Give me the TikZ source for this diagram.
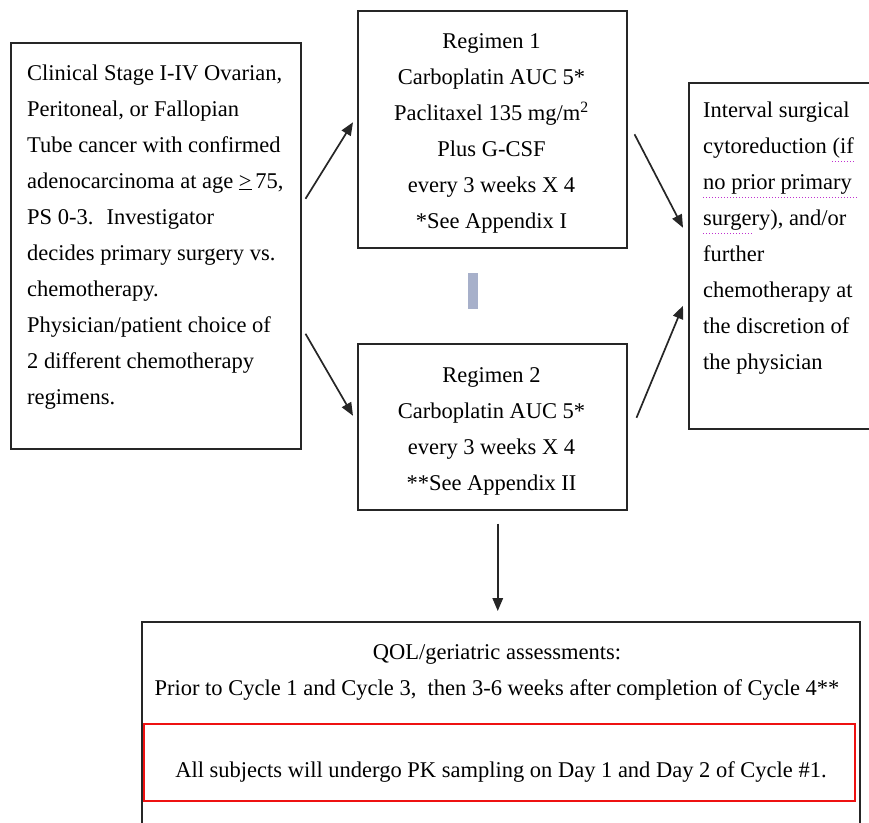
\documentclass[tikz,border=0pt]{standalone}
\usepackage{fontspec}
\setmainfont{Liberation Serif}
\usetikzlibrary{arrows.meta}
\definecolor{barcol}{HTML}{A7B0CA}
\definecolor{pkred}{HTML}{EE1111}
\definecolor{spellcol}{HTML}{C030D0}
\begin{document}
\begin{tikzpicture}[x=1pt,y=-1pt,
  box/.style={draw=black!85,line width=1.5pt,inner sep=0,anchor=north west},
  txt/.style={inner sep=0,font=\fontsize{22.5}{36}\selectfont},
  arr/.style={draw=black!85,line width=1.7pt,-{Triangle[length=13pt,width=10.5pt]}},
  spell/.style={draw=spellcol,line width=1pt,dotted}]
\clip (0,0) rectangle (869,822);
% boxes
\node[box,minimum width=290pt,minimum height=406pt] (left) at (10,42) {};
\node[box,minimum width=269pt,minimum height=237pt] (reg1) at (357,10) {};
\node[box,minimum width=269pt,minimum height=166pt] (reg2) at (357,343) {};
\node[box,minimum width=190pt,minimum height=346pt] (right) at (688,82) {};
\node[box,minimum width=718pt,minimum height=220pt] (bottom) at (141,621) {};
\node[draw=pkred,line width=2pt,inner sep=0,anchor=north west,minimum width=711pt,minimum height=77pt] (pk) at (143,723) {};
\node[fill=barcol,inner sep=0,anchor=north west,minimum width=10pt,minimum height=36pt] (bar) at (468,273) {};
% texts
\node[txt,anchor=base west] (lefttext) at (27,80) {\parbox[t]{280pt}{\raggedright
Clinical Stage I-IV Ovarian,\\
Peritoneal, or Fallopian\\
Tube cancer with confirmed\\
adenocarcinoma at age \underline{>}\,75,\\
PS 0-3.~ Investigator\\
decides primary surgery vs.\\
chemotherapy.\\
Physician/patient choice of\\
2 different chemotherapy\\
regimens.}};
\node[txt,anchor=base] (reg1text) at (491.5,48) {\parbox[t]{260pt}{\centering
Regimen 1\\
Carboplatin AUC 5*\\
Paclitaxel 135 mg/m\textsuperscript{2}\\
Plus G-CSF\\
every 3 weeks X 4\\
{*}See Appendix I}};
\node[txt,anchor=base] (reg2text) at (491.5,382) {\parbox[t]{260pt}{\centering
Regimen 2\\
Carboplatin AUC 5*\\
every 3 weeks X 4\\
{**}See Appendix II}};
\node[txt,anchor=base west] (righttext) at (703,117) {\parbox[t]{170pt}{\raggedright
Interval surgical\\
cytoreduction (if\\
no prior primary\\
surgery), and/or\\
further\\
chemotherapy at\\
the discretion of\\
the physician}};
\node[txt,anchor=base] (qoltext) at (497,659) {\parbox[t]{710pt}{\centering
QOL/geriatric assessments:\\
Prior to Cycle 1 and Cycle 3,~ then 3-6 weeks after completion of Cycle 4**}};
\node[txt,anchor=base] (pktext) at (501,777) {All subjects will undergo PK sampling on Day 1 and Day 2 of Cycle \#1.};
% spell-check marks
\draw[spell] (832,161) -- (855,161);
\draw[spell] (703,197) -- (857,197);
\draw[spell] (703,233) -- (753,233);
% connectors
\draw[arr] ([shift={(4,-47)}]left.east) -- ([shift={(-4,-7)}]reg1.west);
\draw[arr] ([shift={(4,88)}]left.east) -- ([shift={(-4,-11)}]reg2.west);
\draw[arr] ([shift={(7,5)}]reg1.east) -- ([shift={(-5,-28)}]right.west);
\draw[arr] ([shift={(9,-9)}]reg2.east) -- ([shift={(-5,50)}]right.west);
\draw[arr] ([shift={(5.5,13)}]reg2.south) -- ([shift={(-3,-10)}]bottom.north);
\end{tikzpicture}
\end{document}
